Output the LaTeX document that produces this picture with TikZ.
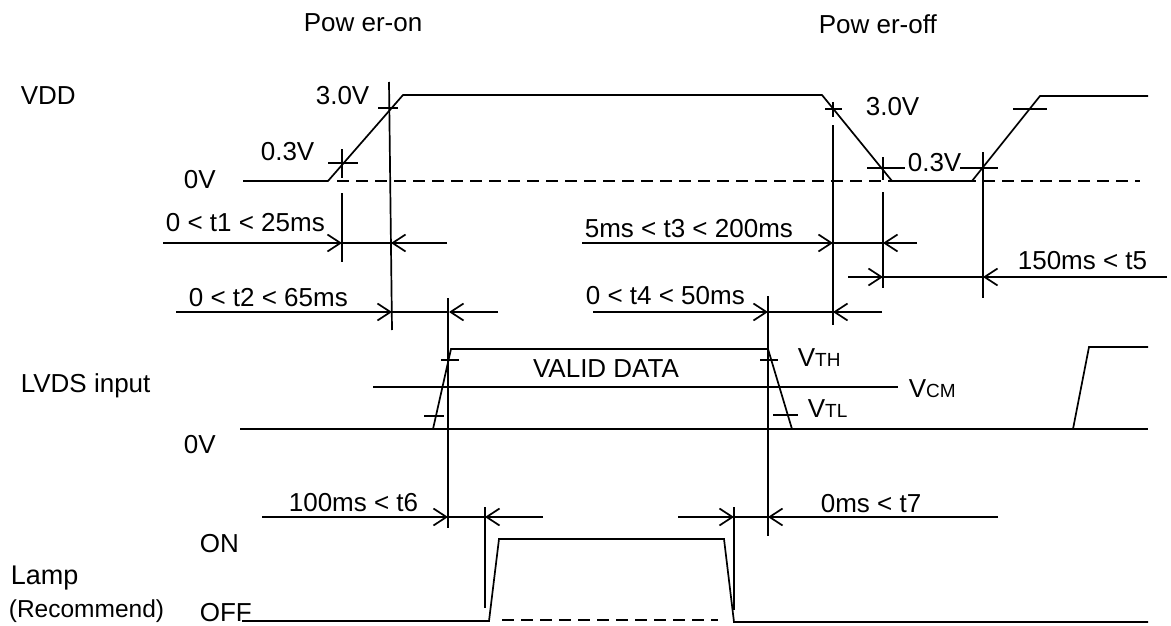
\documentclass[tikz,border=0pt]{standalone}
\usepackage{fontspec}
\setmainfont{Liberation Sans}
\usetikzlibrary{arrows.meta}
\newcommand{\smallsub}[1]{{\fontsize{19}{22}\selectfont #1}}
\begin{document}
\begin{tikzpicture}[x=1pt,y=-1pt,line width=1.7pt,
  lbl/.style={inner sep=0pt,anchor=west,text height=18pt,text depth=0pt,font=\fontsize{26}{30}\selectfont},
  dimtip/.style={-{Straight Barb[length=13pt,width=17pt,line width=1.7pt]}},
  dashline/.style={dash pattern=on 12pt off 7pt}]
\useasboundingbox (0,0) rectangle (1171,626);
% titles
\node[lbl] (pon) at (303,23) {Pow er-on};
\node[lbl] (poff) at (818,25) {Pow er-off};
% signal names
\node[lbl] (vdd) at (20,95) {VDD};
\node[lbl] (lvds) at (20,383) {LVDS input};
\node[lbl,font=\fontsize{27}{30}\selectfont] (lamp) at (10,575) {Lamp};
\node[lbl,font=\fontsize{24.5}{28}\selectfont] (rec) at (8,608) {(Recommend)};
% levels
\node[lbl] (v0a) at (183,179) {0V};
\node[lbl] (v03a) at (260,151) {0.3V};
\node[lbl] (v30a) at (315,95) {3.0V};
\node[lbl] (v30b) at (865,106) {3.0V};
\node[lbl] (v03b) at (907,162) {0.3V};
\node[lbl] (v0b) at (183,444) {0V};
\node[lbl] (von) at (199,543) {ON};
\node[lbl] (voff) at (199,612) {OFF};
\node[lbl,anchor=center] (valid) at (606,368) {VALID DATA};
\node[lbl] (vth) at (797,357) {V\smallsub{TH}};
\node[lbl] (vcm) at (908,388) {V\smallsub{CM}};
\node[lbl] (vtl) at (807,408) {V\smallsub{TL}};
% timing labels
\node[lbl] (t1) at (165,222) {0 < t1 < 25ms};
\node[lbl] (t2) at (188,297) {0 < t2 < 65ms};
\node[lbl] (t3) at (584,228) {5ms < t3 < 200ms};
\node[lbl] (t4) at (585,295) {0 < t4 < 50ms};
\node[lbl] (t5) at (1017,260) {150ms < t5};
\node[lbl] (t6) at (288,502) {100ms < t6};
\node[lbl] (t7) at (820,503) {0ms < t7};

% VDD waveform
\draw (243,181) -- (328,181) -- (403,95) -- (822,95) -- (892,181) -- (972,181) -- (1040,96) -- (1148,96);
\draw[dashline] (337,181) -- (1140,181);
\draw (328,163) -- (358,163) (342,149) -- (342,178);
\draw (342,193) -- (342,262);
\draw (378,108) -- (398,108);
\draw (389,82) -- (392,330);
\draw (825,109) -- (842,109) (833,102) -- (833,117);
\draw (833,125) -- (833,325);
\draw (867,168) -- (905,168) (883,157) -- (883,180);
\draw (883,192) -- (883,288);
\draw (960,168) -- (998,168);
\draw (983,152) -- (983,298);
\draw (1013,109) -- (1047,109);

% LVDS waveform
\draw (240,429) -- (1148,429);
\draw (433,429) -- (451,349) -- (768,349) -- (792,429);
\draw (373,387) -- (898,387);
\draw (441,360) -- (459,360) (760,360) -- (778,360);
\draw (424,416) -- (444,416) (773,415) -- (798,415);
\draw (1073,429) -- (1089,347) -- (1148,347);
\draw (448,298) -- (448,528);
\draw (768,296) -- (768,536);

% Lamp waveform
\draw (242,621) -- (489,621) -- (499,539) -- (724,539) -- (734,622) -- (1148,622);
\draw[dashline] (502,620) -- (718,620);
\draw (485,507) -- (485,608);
\draw (734,507) -- (734,610);

% dimension lines
\draw (342,243) -- (391,243);
\draw[dimtip] (163,243) -- (342,243);
\draw[dimtip] (447,243) -- (391,243);
\draw (392,312) -- (449,312);
\draw[dimtip] (176,312) -- (392,312);
\draw[dimtip] (498,312) -- (449,312);
\draw (833,243) -- (883,243);
\draw[dimtip] (582,243) -- (833,243);
\draw[dimtip] (917,243) -- (883,243);
\draw (883,277) -- (983,277);
\draw[dimtip] (848,277) -- (883,277);
\draw[dimtip] (1167,277) -- (983,277);
\draw (768,312) -- (833,312);
\draw[dimtip] (593,312) -- (768,312);
\draw[dimtip] (882,312) -- (833,312);
\draw (448,517) -- (485,517);
\draw[dimtip] (262,517) -- (448,517);
\draw[dimtip] (543,517) -- (485,517);
\draw (734,517) -- (768,517);
\draw[dimtip] (678,517) -- (734,517);
\draw[dimtip] (998,517) -- (768,517);
\end{tikzpicture}
\end{document}
